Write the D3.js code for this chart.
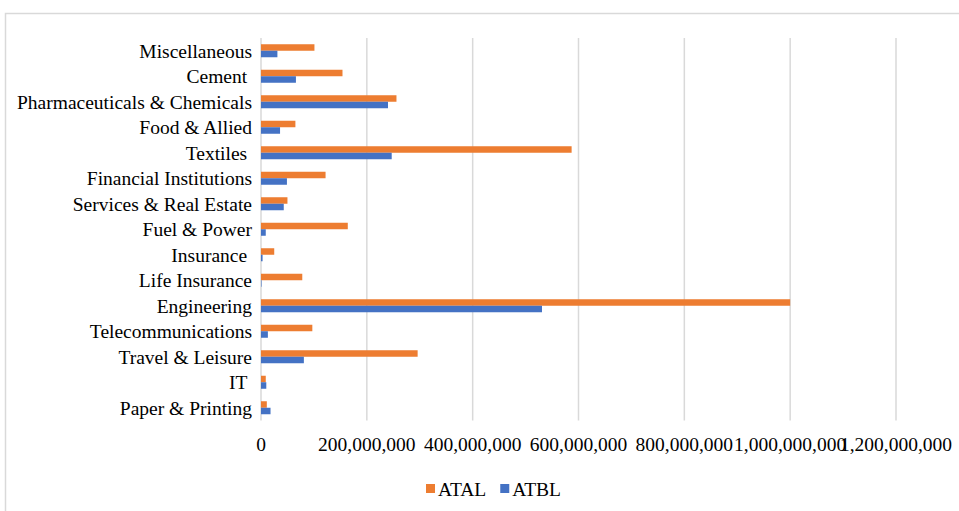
<!DOCTYPE html>
<html>
<head>
<meta charset="utf-8">
<script src="https://cdn.jsdelivr.net/npm/d3@7"></script>
<style>
  html, body { margin: 0; padding: 0; background: #fff; }
  svg { display: block; }
  text { font-family: "Liberation Serif", "Times New Roman", serif; fill: #000; }
</style>
</head>
<body>
<svg id="chart" width="959" height="511"></svg>
<script>
// Sectors, listed from top to bottom
const categories = [
  "Miscellaneous", "Cement ", "Pharmaceuticals & Chemicals", "Food & Allied",
  "Textiles ", "Financial Institutions", "Services & Real Estate", "Fuel & Power",
  "Insurance ", "Life Insurance", "Engineering", "Telecommunications",
  "Travel & Leisure", "IT ", "Paper & Printing"
];
const seriesNames = ["ATAL", "ATBL"];
const atal = [101e6, 154e6, 256e6, 65e6, 587e6, 122e6, 50e6, 164e6, 25e6, 78e6, 1000e6, 97e6, 296e6, 9e6, 11e6];
const atbl = [31e6, 66e6, 240e6, 36e6, 247e6, 49e6, 43e6, 9e6, 3e6, 1e6, 531e6, 13e6, 81e6, 10e6, 18e6];
const xTicks = [0, 200e6, 400e6, 600e6, 800e6, 1000e6, 1200e6];
const colors = { ATAL: "#ED7D31", ATBL: "#4472C4" };

const svg = d3.select("#chart");
const fontSize = 19.5;

// Outer chart frame
svg.append("rect")
  .attr("x", 5.5).attr("y", 13.5)
  .attr("width", 1000).attr("height", 600)
  .attr("fill", "none").attr("stroke", "#d9d9d9").attr("stroke-width", 1.5);

const plot = { left: 261, right: 896, top: 38, bottom: 420.5 };

const x = d3.scaleLinear().domain([0, 1200e6]).range([plot.left, plot.right]);
const y0 = d3.scaleBand().domain(categories).range([plot.top, plot.bottom])
  .paddingInner(0.49).paddingOuter(0.245);
const y1 = d3.scaleBand().domain(seriesNames).range([0, y0.bandwidth()]);

// Vertical gridlines
svg.append("g")
  .selectAll("line")
  .data(xTicks)
  .join("line")
  .attr("x1", d => x(d)).attr("x2", d => x(d))
  .attr("y1", plot.top).attr("y2", plot.bottom)
  .attr("stroke", "#d9d9d9").attr("stroke-width", 1.5);

// Value axis labels
const fmt = d3.format(",");
svg.append("g")
  .selectAll("text")
  .data(xTicks)
  .join("text")
  .attr("x", d => x(d)).attr("y", 451)
  .attr("text-anchor", "middle")
  .attr("font-size", fontSize)
  .text(d => fmt(d));

// Bars
const rows = categories.map((c, i) => ({ c, ATAL: atal[i], ATBL: atbl[i] }));
const groups = svg.append("g")
  .selectAll("g")
  .data(rows)
  .join("g")
  .attr("transform", d => `translate(0,${y0(d.c)})`);

groups.selectAll("rect")
  .data(d => seriesNames.map(s => ({ s, v: d[s] })))
  .join("rect")
  .attr("x", x(0))
  .attr("y", d => y1(d.s))
  .attr("width", d => x(d.v) - x(0))
  .attr("height", y1.bandwidth())
  .attr("fill", d => colors[d.s]);

// Category labels
svg.append("g")
  .selectAll("text")
  .data(categories)
  .join("text")
  .attr("x", 252)
  .attr("y", d => y0(d) + y0.bandwidth() / 2)
  .attr("dy", "0.35em")
  .attr("text-anchor", "end")
  .attr("font-size", fontSize)
  .style("white-space", "pre")
  .text(d => d);

// Legend
const legend = svg.append("g").attr("transform", "translate(426,489)");
let cursor = 0;
seriesNames.forEach(s => {
  const g = legend.append("g").attr("transform", `translate(${cursor},0)`);
  g.append("rect").attr("x", 0).attr("y", -5).attr("width", 9).attr("height", 9)
    .attr("fill", colors[s]);
  const t = g.append("text").attr("x", 12).attr("y", 0).attr("dy", "0.35em")
    .attr("font-size", fontSize).text(s);
  cursor += 12 + t.node().getComputedTextLength() + 14;
});
</script>
</body>
</html>
